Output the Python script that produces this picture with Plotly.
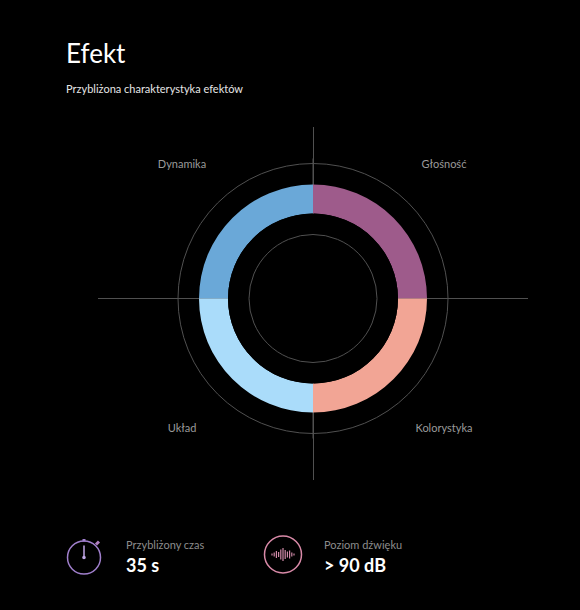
import plotly.graph_objects as go

# ---------------- data ----------------
categories = ["Głośność", "Dynamika", "Układ", "Kolorystyka"]
values = [5.8, 5.8, 5.8, 5.8]
angles = [45, 135, 225, 315]
bar_colors = ["#9e5b8b", "#6aa8d8", "#aadcfa", "#f2a595"]
label_dx = [131, -131, -131, 131]
label_dy = [133, 133, -131, -131]
stat_titles = ["Przybliżony czas", "Poziom dźwięku"]
stat_values = ["35 s", "> 90 dB"]
ring_grid = [10]
ring_max = 11

W, H = 580, 610
CX, CY = 313, 298.5          # chart centre (px)
R_RING, R_HOLE, R_IN = 140, 85, 64
FONT = "Lato, 'Open Sans', sans-serif"
GRID = "#505050"

def px_dom_x(a, b):
    return [a / W, b / W]

def px_dom_y(top, bottom):
    return [1 - bottom / H, 1 - top / H]

fig = go.Figure()

# category labels (cartesian, cross lines are the zero lines)
fig.add_trace(go.Scatter(
    x=label_dx, y=label_dy, text=categories, mode="text",
    textfont=dict(family=FONT, size=11, color="#9a9a9a"),
    hoverinfo="skip", showlegend=False, cliponaxis=False,
))

# inner disk polar (black bg hides the lines in the hole, grid draws inner circle)
fig.add_trace(go.Scatterpolar(
    r=[0], theta=[0], subplot="polar", mode="markers",
    marker=dict(size=1, color="rgba(0,0,0,0)"),
    hoverinfo="skip", showlegend=False,
))

# main ring with bars
fig.add_trace(go.Barpolar(
    r=values, theta=angles, width=[90] * 4, subplot="polar2",
    marker=dict(color=bar_colors, line=dict(width=0)),
    hovertext=categories, hoverinfo="text", showlegend=False,
))

fig.update_layout(
    width=W, height=H,
    paper_bgcolor="#000000", plot_bgcolor="rgba(0,0,0,0)",
    margin=dict(l=0, r=0, t=0, b=0),
    xaxis=dict(domain=px_dom_x(98, 528), range=[-215, 215],
               showgrid=False, showticklabels=False, ticks="",
               zeroline=True, zerolinecolor=GRID, zerolinewidth=1, fixedrange=True),
    yaxis=dict(domain=px_dom_y(127, 480), range=[-181.5, 171.5],
               showgrid=False, showticklabels=False, ticks="",
               zeroline=True, zerolinecolor=GRID, zerolinewidth=1, fixedrange=True),
    polar=dict(
        domain=dict(x=px_dom_x(CX - R_HOLE, CX + R_HOLE),
                    y=px_dom_y(CY - R_HOLE, CY + R_HOLE)),
        bgcolor="#000000",
        radialaxis=dict(range=[0, R_HOLE], tickvals=[R_IN], showticklabels=False,
                        ticks="", showline=False, showgrid=True,
                        gridcolor=GRID, gridwidth=1),
        angularaxis=dict(showgrid=False, showline=False, showticklabels=False, ticks=""),
    ),
    polar2=dict(
        domain=dict(x=px_dom_x(CX - R_RING, CX + R_RING),
                    y=px_dom_y(CY - R_RING, CY + R_RING)),
        bgcolor="rgba(0,0,0,0)",
        hole=R_HOLE / R_RING,
        radialaxis=dict(range=[0, ring_max], tickvals=ring_grid, showgrid=True,
                        gridcolor=GRID, gridwidth=1, showticklabels=False,
                        ticks="", showline=False),
        angularaxis=dict(tickvals=[0, 90, 180, 270], showticklabels=False, ticks="",
                         showgrid=True, gridcolor=GRID, gridwidth=1,
                         showline=False, layer="above traces"),
    ),
    font=dict(family=FONT, color="#ffffff"),
)

# title and subtitle
fig.add_annotation(text="Efekt", xref="paper", yref="paper", x=64 / W, y=1 - 53 / H,
                   xanchor="left", yanchor="middle", showarrow=False,
                   font=dict(family=FONT, size=26, color="#ffffff"))
fig.add_annotation(text="Przybliżona charakterystyka efektów", xref="paper", yref="paper",
                   x=64 / W, y=1 - 89 / H, xanchor="left", yanchor="middle", showarrow=False,
                   font=dict(family=FONT, size=11, color="#e6e6e6"))

# bottom stats text
stat_x = [124, 322]
for i in range(2):
    fig.add_annotation(text=stat_titles[i], xref="paper", yref="paper",
                       x=stat_x[i] / W, y=1 - 544 / H, xanchor="left", yanchor="middle",
                       showarrow=False, font=dict(family=FONT, size=11, color="#8c8c8c"))
    fig.add_annotation(text="<b>" + stat_values[i] + "</b>", xref="paper", yref="paper",
                       x=stat_x[i] / W, y=1 - 565 / H, xanchor="left", yanchor="middle",
                       showarrow=False, font=dict(family=FONT, size=18, color="#ffffff"))

# icons (decorative)
def pc(x, y):
    return x / W, 1 - y / H

shapes = []
# stopwatch
cx, cy, r = 84, 557.5, 16.5
x0, y0 = pc(cx - r, cy - r); x1, y1 = pc(cx + r, cy + r)
shapes.append(dict(type="circle", xref="paper", yref="paper", x0=x0, y0=y1, x1=x1, y1=y0,
                   line=dict(color="#a07fcc", width=1.5)))
a, b = pc(cx, cy - r - 2); c, d = pc(cx, cy - r + 0.5)
shapes.append(dict(type="line", xref="paper", yref="paper", x0=a, y0=b, x1=c, y1=d,
                   line=dict(color="#a07fcc", width=3)))
a, b = pc(cx, cy - 12); c, d = pc(cx, cy)
shapes.append(dict(type="line", xref="paper", yref="paper", x0=a, y0=b, x1=c, y1=d,
                   line=dict(color="#c0a6e6", width=1.5)))
x0, y0 = pc(cx - 1.8, cy - 1.8); x1, y1 = pc(cx + 1.8, cy + 1.8)
shapes.append(dict(type="circle", xref="paper", yref="paper", x0=x0, y0=y1, x1=x1, y1=y0,
                   fillcolor="#c0a6e6", line=dict(width=0)))
a, b = pc(cx + 12, cy - 13); c, d = pc(cx + 15, cy - 16)
shapes.append(dict(type="line", xref="paper", yref="paper", x0=a, y0=b, x1=c, y1=d,
                   line=dict(color="#b07fc0", width=3)))
# sound icon
cx, cy, r = 283, 554.5, 18.5
x0, y0 = pc(cx - r, cy - r); x1, y1 = pc(cx + r, cy + r)
shapes.append(dict(type="circle", xref="paper", yref="paper", x0=x0, y0=y1, x1=x1, y1=y0,
                   line=dict(color="#d98aa8", width=1.5)))
bar_h = [2, 4, 7, 5, 10, 13, 9, 6, 8, 4, 2]
for k, h in enumerate(bar_h):
    xx = cx - 11 + k * 2.2
    a, b = pc(xx, cy - h / 2); c, d = pc(xx, cy + h / 2)
    shapes.append(dict(type="line", xref="paper", yref="paper", x0=a, y0=b, x1=c, y1=d,
                       line=dict(color="#d08aa8", width=1.2)))
fig.update_layout(shapes=shapes)

fig.write_html(
    "out.html",
    config={"displayModeBar": False},
    post_script="document.body.style.margin='0';document.body.style.overflow='hidden';"
                "document.body.style.background='#000';",
)
